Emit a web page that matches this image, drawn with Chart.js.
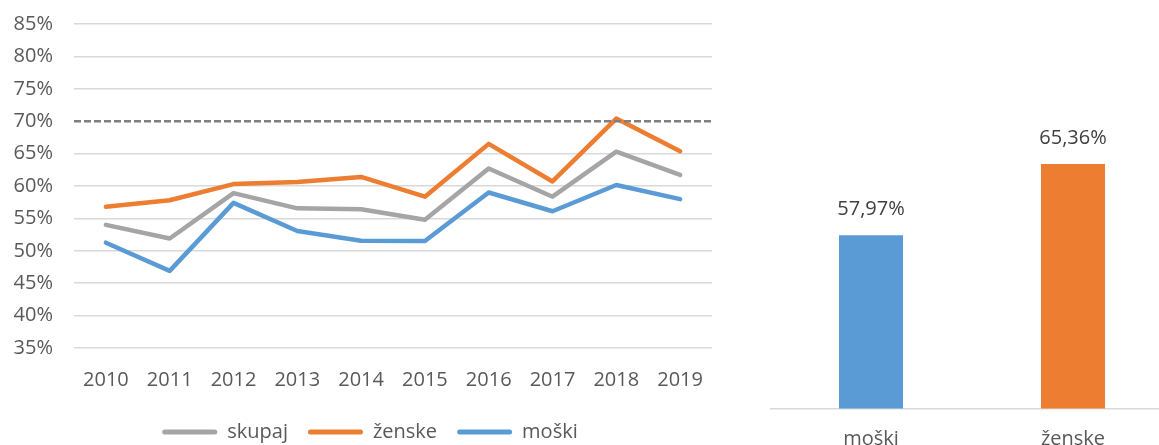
<!DOCTYPE html>
<html><head><meta charset="utf-8">
<script src="https://cdn.jsdelivr.net/npm/chart.js@4/dist/chart.umd.min.js"></script>
<style>
html,body{margin:0;padding:0;background:#fff;overflow:hidden;width:1159px;height:445px;}
#wrap{position:relative;width:1159px;height:445px;overflow:hidden;background:#fff;}
#c1box{position:absolute;left:0;top:0;width:740px;height:452px;}
#c2box{position:absolute;left:770px;top:0;width:404px;height:480px;}
</style></head><body>
<div id="wrap"><div id="c1box"><canvas id="c1"></canvas></div><div id="c2box"><canvas id="c2"></canvas></div></div>
<script>
const years = ['2010','2011','2012','2013','2014','2015','2016','2017','2018','2019'];
const skupaj = [54.0, 51.9, 58.9, 56.55, 56.4, 54.8, 62.7, 58.35, 65.3, 61.7];
const zenske = [56.8, 57.8, 60.3, 60.6, 61.4, 58.35, 66.5, 60.7, 70.4, 65.36];
const moski  = [51.25, 46.9, 57.4, 53.06, 51.56, 51.5, 59.0, 56.1, 60.15, 57.97];
const targetValue = 70;
const yMin = 35, yMax = 85, yStep = 5;
const barCategories = ['moški', 'ženske'];
const barValues = [57.97, 65.36];
const barMin = 40, barMax = 80;

const GREY = '#A5A5A5', ORANGE = '#ED7D31', BLUE = '#5B9BD5';
const FONT = {family: "'Open Sans', sans-serif", size: 20};
const TXT = '#595959';

const targetLine = {
  id: 'targetLine',
  afterDatasetsDraw(chart) {
    const y = chart.scales.y.getPixelForValue(targetValue);
    const {left, right} = chart.chartArea;
    const ctx = chart.ctx;
    ctx.save();
    ctx.strokeStyle = '#7F7F7F';
    ctx.lineWidth = 2.5;
    ctx.setLineDash([7, 3]);
    ctx.beginPath();
    ctx.moveTo(left, y);
    ctx.lineTo(right, y);
    ctx.stroke();
    ctx.restore();
  }
};

function lineDs(label, data, color) {
  return {label, data, borderColor: color, backgroundColor: color, borderWidth: 4.5,
    pointRadius: 0, pointHoverRadius: 0, tension: 0, fill: false,
    borderCapStyle: 'round', borderJoinStyle: 'round'};
}

new Chart(document.getElementById('c1'), {
  type: 'line',
  data: {labels: years, datasets: [
    lineDs('skupaj', skupaj, GREY),
    lineDs('ženske', zenske, ORANGE),
    lineDs('moški', moski, BLUE)
  ]},
  options: {
    responsive: true, maintainAspectRatio: false, animation: false,
    layout: {padding: {top: 24, right: 0, left: 0, bottom: 0}},
    plugins: {
      tooltip: {enabled: false},
      legend: {
        position: 'bottom',
        labels: {
          font: FONT, color: TXT, boxWidth: 55, boxHeight: 5, padding: 20,
          generateLabels(chart) {
            return Chart.defaults.plugins.legend.labels.generateLabels(chart).map(l => {
              l.lineWidth = 0; l.borderRadius = 2.5; return l;
            });
          }
        }
      }
    },
    scales: {
      x: {
        offset: true,
        grid: {display: false, offset: true},
        border: {display: false},
        ticks: {font: FONT, color: TXT, padding: 12, maxRotation: 0},
        afterFit(s) { s.height = 54; }
      },
      y: {
        min: yMin, max: yMax,
        ticks: {stepSize: yStep, font: FONT, color: TXT, padding: 0,
          callback: v => v + '%'},
        grid: {drawTicks: true, tickLength: 21, tickColor: 'rgba(0,0,0,0)', lineWidth: 1.5,
          color: ctx => (ctx.tick && ctx.tick.value === targetValue) ? 'rgba(0,0,0,0)' : '#D9D9D9'},
        border: {display: false},
        afterFit(s) { s.width = 74; }
      },
      ySpacer: {
        position: 'right', display: true,
        grid: {display: false, drawTicks: false}, border: {display: false},
        ticks: {display: false},
        afterFit(s) { s.width = 28; }
      }
    }
  },
  plugins: [targetLine]
});

const barLabels = {
  id: 'barLabels',
  afterDatasetsDraw(chart) {
    const ctx = chart.ctx;
    const meta = chart.getDatasetMeta(0);
    ctx.save();
    ctx.font = "20px 'Open Sans', sans-serif";
    ctx.fillStyle = '#404040';
    ctx.textAlign = 'center';
    ctx.textBaseline = 'middle';
    meta.data.forEach((el, i) => {
      const v = chart.data.datasets[0].data[i];
      ctx.fillText(v.toFixed(2).replace('.', ',') + '%', el.x, el.y - 26);
    });
    ctx.restore();
  }
};

new Chart(document.getElementById('c2'), {
  type: 'bar',
  data: {labels: barCategories, datasets: [{
    data: barValues, backgroundColor: [BLUE, ORANGE], borderWidth: 0,
    categoryPercentage: 1, barPercentage: 0.317
  }]},
  options: {
    responsive: true, maintainAspectRatio: false, animation: false,
    layout: {padding: {top: 23, right: 0, left: 0, bottom: 0}},
    plugins: {legend: {display: false}, tooltip: {enabled: false}},
    scales: {
      x: {
        grid: {display: false},
        border: {display: true, color: '#D9D9D9', width: 1.5},
        ticks: {font: FONT, color: TXT, padding: 11},
        afterFit(s) { s.height = 71.5; }
      },
      y: {display: false, min: barMin, max: barMax}
    }
  },
  plugins: [barLabels]
});
</script>
</body></html>
